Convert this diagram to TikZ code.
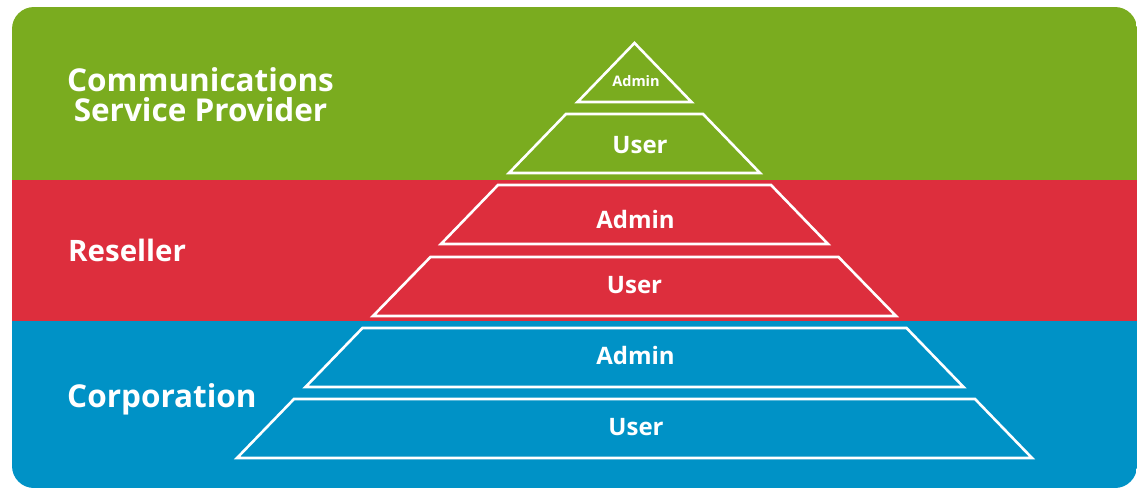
\documentclass[tikz,border=0pt]{standalone}
\usepackage{fontspec}
\setmainfont{Open Sans}
\definecolor{cspgreen}{HTML}{7AAC1F}
\definecolor{resred}{HTML}{DD2E3D}
\definecolor{corpblue}{HTML}{0092C6}
\tikzset{
  layer/.style={draw=white, line width=2.6pt, line join=miter},
  lvl/.style={text=white, font=\bfseries\fontsize{24}{28}\selectfont, inner sep=0pt, anchor=base},
  tier/.style={text=white, font=\bfseries\fontsize{31.5}{30}\selectfont, inner sep=0pt},
}
\begin{document}
\begin{tikzpicture}[x=1pt, y=-1pt]
\useasboundingbox (0,0) rectangle (1137,488);
\begin{scope}
  \clip[rounded corners=22pt] (12,7) rectangle (1137,488);
  \fill[cspgreen] (0,0) rectangle (1137,180);
  \fill[resred] (0,180) rectangle (1137,321);
  \fill[corpblue] (0,321) rectangle (1137,488);
\end{scope}
% pyramid
\def\cx{634.5}
\draw[layer] (\cx,43) coordinate (apex) -- (\cx+57,102) -- (\cx-57,102) -- cycle;
\draw[layer] (\cx-68.5,114) -- (\cx+68.5,114) -- (\cx+125.5,173) -- (\cx-125.5,173) -- cycle;
\draw[layer] (\cx-136.5,185) -- (\cx+136.5,185) -- (\cx+193.5,244) -- (\cx-193.5,244) -- cycle;
\draw[layer] (\cx-204,257) -- (\cx+204,257) -- (\cx+261.5,316) -- (\cx-261.5,316) -- cycle;
\draw[layer] (\cx-272,328) -- (\cx+272,328) -- (\cx+329,387) -- (\cx-329,387) -- cycle;
\draw[layer] (\cx-340.5,399) -- (\cx+340.5,399) -- (\cx+397.5,458) -- (\cx-397.5,458) -- cycle;
% level labels
\node[lvl, font=\bfseries\fontsize{14.5}{16}\selectfont] (a0) at (636,86) {Admin};
\node[lvl] (u0) at (640,153) {User};
\node[lvl] (a1) at (635.5,228) {Admin};
\node[lvl] (u1) at (634.5,293) {User};
\node[lvl] (a2) at (635.5,364) {Admin};
\node[lvl] (u2) at (636,435) {User};
% tier labels
\node[tier, align=center, anchor=base] (csp) at (200.5,121) {Communications\\Service Provider};
\node[tier, font=\bfseries\fontsize{29.5}{30}\selectfont, anchor=base west] (res) at (68,261) {Reseller};
\node[tier, anchor=base west] (corp) at (67,407) {Corporation};
\end{tikzpicture}
\end{document}
